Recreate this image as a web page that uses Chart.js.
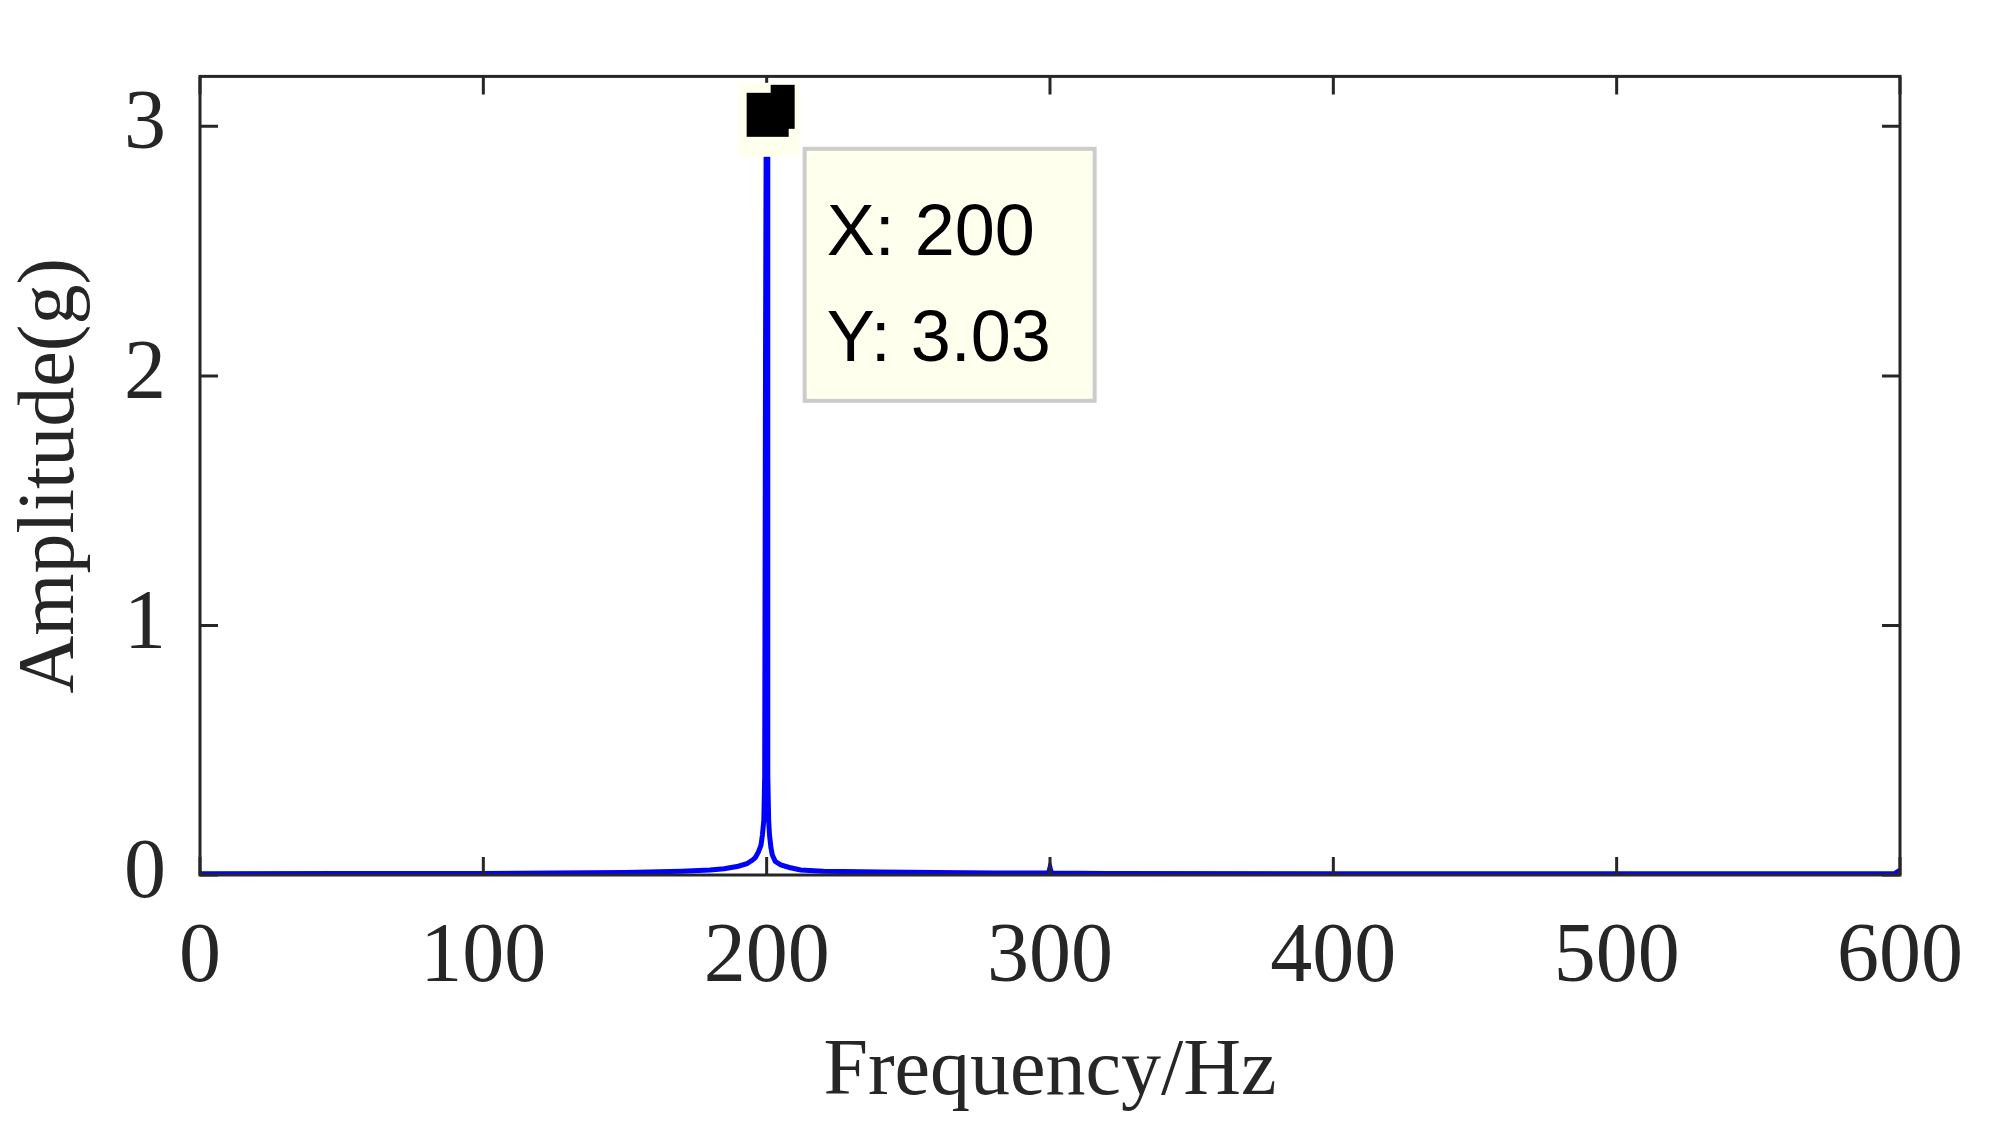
<!DOCTYPE html>
<html><head><meta charset="utf-8">
<script src="https://cdn.jsdelivr.net/npm/chart.js@4/dist/chart.umd.min.js"></script>
<style>html,body{margin:0;padding:0;background:#fff}#c{display:block}</style>
</head><body><canvas id="c" width="1989" height="1125"></canvas>
<script>
const freqs = [0,50,100,150,170,180,185,190,193,195,196,197,198,198.5,199,199.3,199.6,199.8,200,200.2,200.4,200.7,201,201.5,202,203,205,208,212,220,240,260,280,299.5,300,300.5,320,400,500,598,600];
const amps  = [0.005,0.006,0.006,0.01,0.015,0.02,0.025,0.035,0.045,0.06,0.07,0.09,0.12,0.16,0.22,0.4,2.1,2.9,3.03,2.9,0.4,0.22,0.16,0.11,0.08,0.055,0.04,0.03,0.02,0.015,0.012,0.01,0.008,0.008,0.03,0.008,0.006,0.005,0.005,0.005,0.02];
const xTicks = [0,100,200,300,400,500,600];
const yTicks = [0,1,2,3];
const tipX = 200, tipY = 3.03;
const axisColor = '#262626';

const frame = {
  id:'frame',
  afterDraw(ch){
    const {ctx, chartArea:a, scales:{x,y}} = ch;
    ctx.save();
    ctx.strokeStyle = axisColor; ctx.lineWidth = 3;
    ctx.strokeRect(a.left, a.top, a.right-a.left, a.bottom-a.top);
    const L = 18;
    ctx.beginPath();
    xTicks.forEach(t=>{const px=x.getPixelForValue(t);ctx.moveTo(px,a.bottom);ctx.lineTo(px,a.bottom-L);ctx.moveTo(px,a.top);ctx.lineTo(px,a.top+L);});
    yTicks.forEach(t=>{const py=y.getPixelForValue(t);ctx.moveTo(a.left,py);ctx.lineTo(a.left+L,py);ctx.moveTo(a.right,py);ctx.lineTo(a.right-L,py);});
    ctx.stroke();
    const px = x.getPixelForValue(tipX), py = y.getPixelForValue(tipY);
    ctx.fillStyle = '#ffffee';
    ctx.fillRect(px-28, py-36, 62, 74);
    ctx.fillStyle = '#000';
    ctx.fillRect(px-20, py-26, 42, 44);
    ctx.fillRect(px+4, py-34, 24, 44);
    const bx = px+38, by = py+30, bw = 290, bh = 252;
    ctx.fillStyle = '#ffffee'; ctx.fillRect(bx,by,bw,bh);
    ctx.strokeStyle = '#cccccc'; ctx.lineWidth = 4; ctx.strokeRect(bx,by,bw,bh);
    ctx.fillStyle = '#000'; ctx.font = '72px "Liberation Sans", Arial, sans-serif';
    ctx.textBaseline = 'alphabetic'; ctx.textAlign = 'left';
    ctx.fillText('X: 200', bx+22, by+106);
    ctx.fillText('Y: 3.03', bx+22, by+212);
    ctx.restore();
  }
};

new Chart(document.getElementById('c'), {
  type:'line',
  data:{datasets:[{data:freqs.map((f,i)=>({x:f,y:amps[i]})), borderColor:'#0000ff', borderWidth:5, pointRadius:0, tension:0, fill:false}]},
  options:{
    responsive:false, animation:false, devicePixelRatio:1,
    layout:{padding:{top:8,right:84,left:0,bottom:0}},
    plugins:{legend:{display:false},tooltip:{enabled:false}},
    scales:{
      x:{type:'linear',min:0,max:600,
        afterBuildTicks(s){s.ticks=xTicks.map(v=>({value:v}));},
        afterFit(s){s.height=250;},
        grid:{display:false}, border:{display:false},
        ticks:{color:axisColor,font:{family:'"Liberation Serif", serif',size:84},padding:26,maxRotation:0,autoSkip:false},
        title:{display:true,text:'Frequency/Hz',color:axisColor,font:{family:'"Liberation Serif", serif',size:80},padding:{top:0}}
      },
      y:{type:'linear',min:0,max:3.2,
        afterBuildTicks(s){s.ticks=yTicks.map(v=>({value:v}));},
        afterFit(s){s.width=200;},
        grid:{display:false}, border:{display:false},
        ticks:{color:axisColor,font:{family:'"Liberation Serif", serif',size:84},padding:26,autoSkip:false},
        title:{display:true,text:'Amplitude(g)',color:axisColor,font:{family:'"Liberation Serif", serif',size:80},padding:{bottom:0}}
      }
    }
  },
  plugins:[frame]
});
</script></body></html>
